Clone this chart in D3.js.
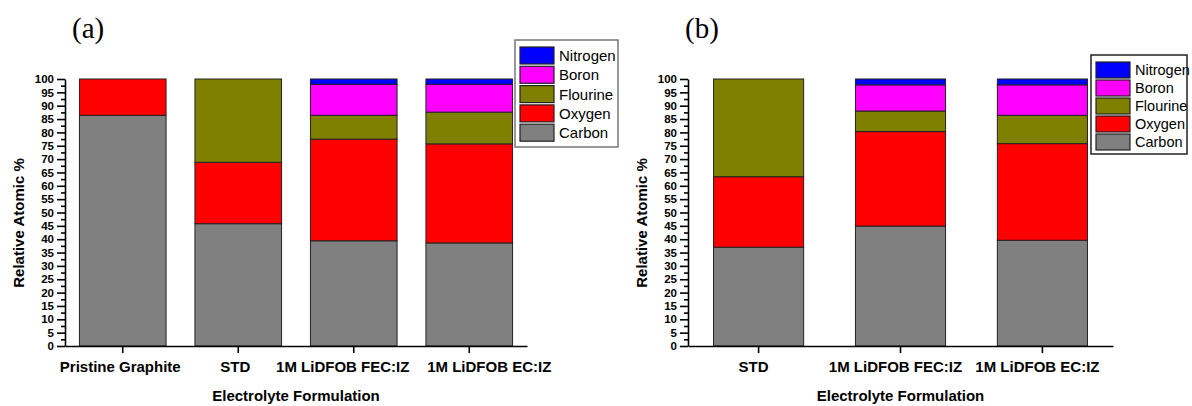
<!DOCTYPE html>
<html>
<head>
<meta charset="utf-8">
<script src="https://cdn.jsdelivr.net/npm/d3@7"></script>
<style>
  body { margin: 0; background: #fff; }
  svg { display: block; }
  .axis path, .axis line { stroke: #000; stroke-width: 1.6; }
  .axis text { font-family: "Liberation Sans", Arial, sans-serif; font-weight: bold; fill: #000; }
</style>
</head>
<body>
<div id="chart"></div>
<script>
// element names (stack order bottom -> top)
var elements = ["Carbon", "Oxygen", "Flourine", "Boron", "Nitrogen"];
var elementColors = ["#808080", "#ff0000", "#808000", "#ff00ff", "#0000ff"];

// panel (a)
var catsA = ["Pristine Graphite", "STD", "1M LiDFOB FEC:IZ", "1M LiDFOB EC:IZ"];
var carbonA = [86.4, 45.8, 39.4, 38.6];
var oxygenA = [13.6, 23.0, 38.1, 37.1];
var fluorineA = [0, 31.2, 8.9, 11.9];
var boronA = [0, 0, 11.6, 10.4];
var nitrogenA = [0, 0, 2.0, 2.0];

// panel (b)
var catsB = ["STD", "1M LiDFOB FEC:IZ", "1M LiDFOB EC:IZ"];
var carbonB = [37.0, 44.9, 39.6];
var oxygenB = [26.4, 35.4, 36.2];
var fluorineB = [36.6, 7.7, 10.6];
var boronB = [0, 9.8, 11.4];
var nitrogenB = [0, 2.2, 2.2];

// y tick values
var majorTicks = d3.range(0, 101, 5);
var minorTicks = d3.range(2.5, 100, 5);

var w = 1192, h = 406;
var sansFont = "'Liberation Sans', Arial, sans-serif";

var svg = d3.select("#chart")
    .append("svg")
    .attr("width", w)
    .attr("height", h);

//turn the value arrays into rows for d3.stack
function buildRows(cats, series) {
    return cats.map(function (c, i) {
        var row = { cat: c };
        elements.forEach(function (e, k) { row[e] = series[k][i]; });
        return row;
    });
}

function drawPanel(cfg) {
    var rows = buildRows(cfg.cats, cfg.series);

    var xScale = d3.scaleBand()
        .domain(cfg.cats)
        .range([cfg.left, cfg.right])
        .paddingInner(cfg.padIn)
        .paddingOuter(cfg.padOut);

    var yScale = d3.scaleLinear()
        .domain([0, 100])
        .range([cfg.bottom, cfg.top]);

    var stacked = d3.stack().keys(elements)(rows);

    var g = svg.append("g");

    //stacked bars
    g.selectAll("g.layer")
        .data(stacked)
        .enter().append("g")
        .attr("class", "layer")
        .attr("fill", function (d, i) { return elementColors[i]; })
        .selectAll("rect")
        .data(function (d) { return d; })
        .enter().append("rect")
        .filter(function (d) { return d[1] - d[0] > 0; })
        .attr("x", function (d) { return xScale(d.data.cat); })
        .attr("width", xScale.bandwidth())
        .attr("y", function (d) { return yScale(d[1]); })
        .attr("height", function (d) { return yScale(d[0]) - yScale(d[1]); })
        .attr("stroke", "#222")
        .attr("stroke-width", 1);

    //minor y ticks
    g.append("g")
        .attr("class", "axis")
        .attr("transform", "translate(" + cfg.left + ",0)")
        .call(d3.axisLeft(yScale).tickValues(minorTicks).tickSize(4).tickFormat(""))
        .select(".domain").remove();

    //major y axis
    var yAxis = g.append("g")
        .attr("class", "axis")
        .attr("transform", "translate(" + cfg.left + ",0)")
        .call(d3.axisLeft(yScale).tickValues(majorTicks).tickSize(8).tickSizeOuter(0).tickPadding(3));
    yAxis.selectAll("text").style("font-size", "11.5px");

    //x axis
    var xAxis = g.append("g")
        .attr("class", "axis")
        .attr("transform", "translate(0," + cfg.bottom + ")")
        .call(d3.axisBottom(xScale).tickSize(7).tickSizeOuter(0).tickPadding(8));
    xAxis.selectAll("text")
        .style("font-size", "15px")
        .attr("dx", function (d, i) { return cfg.labelShift[i]; });

    //axis titles
    g.append("text")
        .attr("x", (cfg.left + cfg.right) / 2)
        .attr("y", 401)
        .attr("text-anchor", "middle")
        .style("font-family", sansFont)
        .style("font-weight", "bold")
        .style("font-size", "15px")
        .text("Electrolyte Formulation");

    g.append("text")
        .attr("transform", "translate(" + cfg.yTitleX + ",223) rotate(-90)")
        .attr("text-anchor", "middle")
        .style("font-family", sansFont)
        .style("font-weight", "bold")
        .style("font-size", "15px")
        .text("Relative Atomic %");

    //panel letter
    g.append("text")
        .attr("x", cfg.letterX)
        .attr("y", 38)
        .style("font-family", "'Liberation Serif', 'Times New Roman', serif")
        .style("font-size", "29px")
        .text(cfg.letter);

    //legend (top entry is Nitrogen)
    var lg = g.append("g");
    lg.append("rect")
        .attr("x", cfg.leg.x)
        .attr("y", cfg.leg.y)
        .attr("width", cfg.leg.w)
        .attr("height", cfg.leg.h)
        .attr("fill", "#fff")
        .attr("stroke", cfg.leg.border)
        .attr("stroke-width", 1.5);
    var order = elements.slice().reverse();
    order.forEach(function (e, i) {
        var k = elements.indexOf(e);
        var yy = cfg.leg.y + cfg.leg.first + i * cfg.leg.step;
        lg.append("rect")
            .attr("x", cfg.leg.x + 5)
            .attr("y", yy)
            .attr("width", 34)
            .attr("height", cfg.leg.sw)
            .attr("fill", elementColors[k])
            .attr("stroke", "#222")
            .attr("stroke-width", 1.2);
        lg.append("text")
            .attr("x", cfg.leg.x + 44)
            .attr("y", yy + cfg.leg.sw / 2)
            .attr("dy", "0.36em")
            .style("font-family", sansFont)
            .style("font-size", cfg.leg.font)
            .text(e);
    });
}

drawPanel({
    cats: catsA,
    series: [carbonA, oxygenA, fluorineA, boronA, nitrogenA],
    left: 65, right: 527, top: 79, bottom: 346,
    padIn: 0.25, padOut: 0.125,
    labelShift: [-2.5, -3, -11, 20],
    yTitleX: 24,
    letter: "(a)", letterX: 72,
    leg: { x: 515, y: 40, w: 103, h: 107, first: 7, step: 19.3, sw: 17, font: "15px", border: "#777" }
});

drawPanel({
    cats: catsB,
    series: [carbonB, oxygenB, fluorineB, boronB, nitrogenB],
    left: 688, right: 1113, top: 79, bottom: 346,
    padIn: 0.365, padOut: 0.18,
    labelShift: [-5, -5, -5],
    yTitleX: 647,
    letter: "(b)", letterX: 685,
    leg: { x: 1091, y: 55, w: 96, h: 99, first: 7, step: 18, sw: 16, font: "14.5px", border: "#222" }
});
</script>
</body>
</html>
